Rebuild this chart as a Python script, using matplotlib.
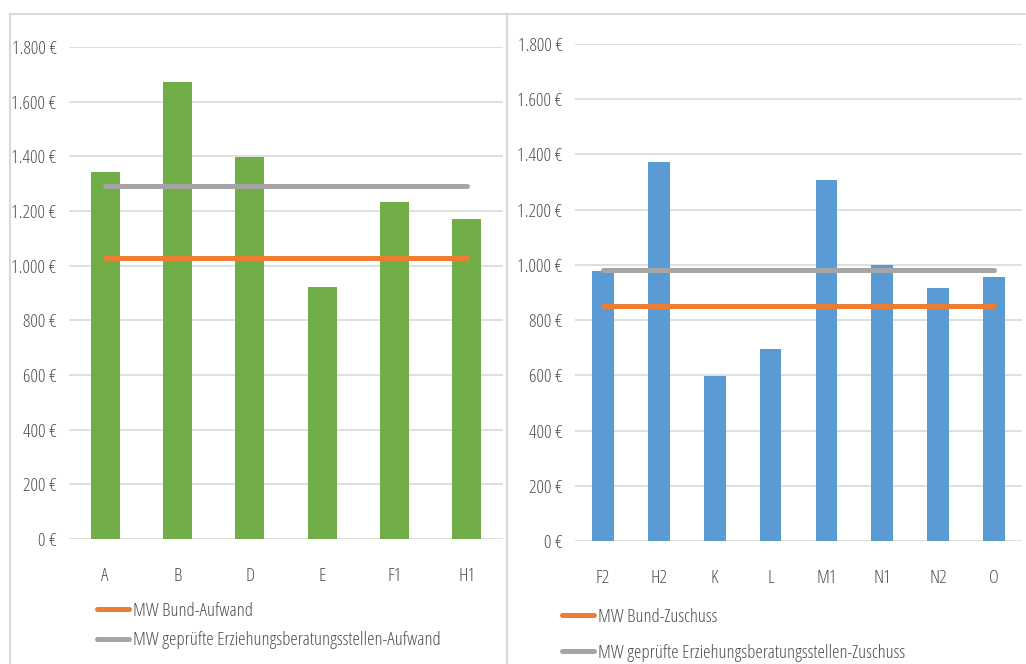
import matplotlib.pyplot as plt
from matplotlib import font_manager
from matplotlib.patches import Rectangle
from matplotlib.ticker import FuncFormatter

# Aufwand je Beratungsstelle (links) und Zuschuss je Beratungsstelle (rechts)
aufwand_stellen = ["A", "B", "D", "E", "F1", "H1"]
aufwand_werte = [1343, 1673, 1399, 923, 1234, 1171]
aufwand_mw_bund = 1027
aufwand_mw_gepr = 1290

zuschuss_stellen = ["F2", "H2", "K", "L", "M1", "N1", "N2", "O"]
zuschuss_werte = [979, 1374, 598, 694, 1307, 1000, 917, 957]
zuschuss_mw_bund = 851
zuschuss_mw_gepr = 981

y_ticks = [0, 200, 400, 600, 800, 1000, 1200, 1400, 1600, 1800]

GREEN = "#70ad47"
BLUE = "#5b9bd5"
ORANGE = "#ed7d31"
GREY = "#a5a5a5"
GRID = "#d9d9d9"
TEXT = "#4f4f4f"

# schmale Schrift: Open Sans Condensed Light, sonst IBM Plex Sans Condensed
cond = [f for f in font_manager.fontManager.ttflist
        if f.fname.endswith("OpenSans-CondLight.ttf")]
if cond:
    plt.rcParams["font.family"] = [cond[0].name, "DejaVu Sans"]
    plt.rcParams["font.stretch"] = cond[0].stretch
    plt.rcParams["font.weight"] = cond[0].weight
    FS = 13.5
else:
    plt.rcParams["font.family"] = ["IBM Plex Sans Condensed", "DejaVu Sans"]
    FS = 12.5

W, H = 1026, 664
fig = plt.figure(figsize=(W / 100, H / 100), dpi=100)


def px_axes(x0, y0, x1, y1):
    return fig.add_axes([x0 / W, 1 - y1 / H, (x1 - x0) / W, (y1 - y0) / H])


def euro(v, _):
    return f"{int(v):,}".replace(",", ".") + " €"


def panel(ax, cats, vals, color, mw_bund, mw_gepr, labels, width):
    x = range(len(cats))
    ax.bar(x, vals, width=width, color=color, zorder=2)
    ax.plot([0, len(cats) - 1], [mw_bund] * 2, color=ORANGE, lw=3.6,
            solid_capstyle="round", zorder=3, label=labels[0])
    ax.plot([0, len(cats) - 1], [mw_gepr] * 2, color=GREY, lw=3.6,
            solid_capstyle="round", zorder=3, label=labels[1])
    ax.set_xlim(-0.5, len(cats) - 0.5)
    ax.set_ylim(0, 1800)
    ax.set_yticks(y_ticks)
    ax.yaxis.set_major_formatter(FuncFormatter(euro))
    ax.set_xticks(list(x))
    ax.set_xticklabels(cats)
    ax.grid(axis="y", color=GRID, lw=1.2, zorder=0)
    for s in ax.spines.values():
        s.set_visible(False)
    ax.tick_params(length=0, colors=TEXT, labelsize=FS)
    ax.tick_params(axis="y", pad=9)
    ax.tick_params(axis="x", pad=20)


ax1 = px_axes(69, 47, 503, 539)
panel(ax1, aufwand_stellen, aufwand_werte, GREEN, aufwand_mw_bund,
      aufwand_mw_gepr,
      ["MW Bund-Aufwand", "MW geprüfte Erziehungsberatungsstellen-Aufwand"],
      0.4)

ax2 = px_axes(575, 44, 1022, 541)
panel(ax2, zuschuss_stellen, zuschuss_werte, BLUE, zuschuss_mw_bund,
      zuschuss_mw_gepr,
      ["MW Bund-Zuschuss", "MW geprüfte Erziehungsberatungsstellen-Zuschuss"],
      0.39)

for ax, (lx, ly), sp in [(ax1, (97, 602), 0.6), (ax2, (562, 608), 0.95)]:
    leg = ax.legend(loc="upper left", bbox_to_anchor=(lx / W, 1 - ly / H),
                    bbox_transform=fig.transFigure, frameon=False,
                    handlelength=1.7, handletextpad=0.2, labelspacing=sp,
                    borderpad=0, borderaxespad=0, fontsize=FS)
    for t in leg.get_texts():
        t.set_color(TEXT)

# Rahmen der beiden Diagramme
for x0, x1 in [(10, 507), (507, 1040)]:
    fig.patches.append(Rectangle((x0 / W, -0.05), (x1 - x0) / W,
                                 1.05 - 14 / H, transform=fig.transFigure,
                                 fill=False, ec=GRID, lw=1.5))

fig.savefig("out.png", dpi=100)
